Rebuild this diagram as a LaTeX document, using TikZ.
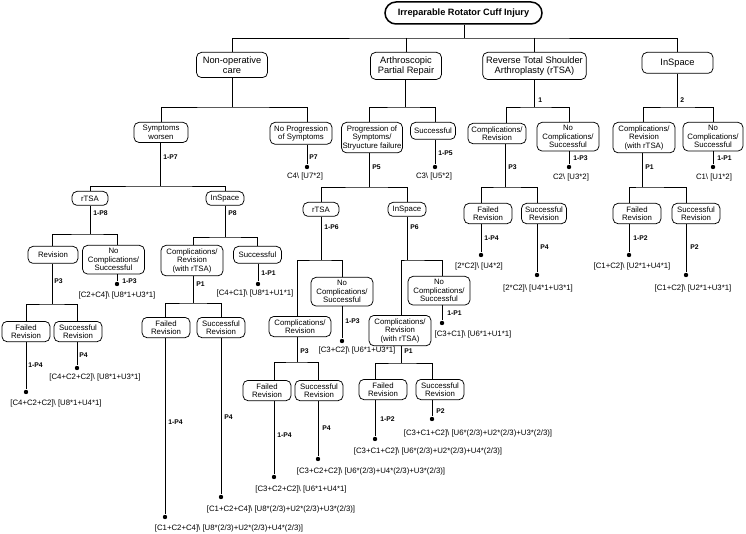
\documentclass[tikz,border=0pt]{standalone}
\usepackage{fontspec}
\setmainfont{Liberation Sans}

\begin{document}
\begin{tikzpicture}[x=1pt, y=1pt, line width=0.75pt,
  box/.style={draw, rounded corners=5pt, align=center, anchor=north, font=\fontsize{7.8}{8.6}\selectfont, inner xsep=3.5pt, inner ysep=3pt, minimum width=48pt, minimum height=17pt},
  tallbox/.style={box, minimum width=62pt},
  tinybox/.style={box, inner ysep=2pt, minimum width=36pt, minimum height=14pt},
  topbox/.style={box, font=\fontsize{9.3}{10.4}\selectfont, inner ysep=4pt, minimum width=71pt, minimum height=21pt},
  rootbox/.style={draw, line width=1.5pt, rounded corners=11pt, font=\bfseries\fontsize{9.2}{11}\selectfont, minimum width=157pt, minimum height=22pt},
  lbl/.style={anchor=west, inner sep=0pt, font=\bfseries\fontsize{6.8}{8}\selectfont},
  res/.style={inner sep=0pt, font=\fontsize{7.8}{9}\selectfont},
  dot/.style={circle, fill, inner sep=0pt, minimum size=4.4pt}]

\useasboundingbox (0,0) rectangle (746,-534);

% Root
\node[rootbox] (root) at (463.5,-13) {Irreparable Rotator Cuff Injury};

% First level
\node[topbox] (nonop) at (232,-52) {Non-operative\\care};
\node[topbox] (arth) at (406,-52) {Arthroscopic\\Partial Repair};
\node[topbox] (rtsa) at (534.5,-52) {Reverse Total Shoulder\\Arthroplasty (rTSA)};
\node[topbox] (insp) at (677.5,-52) {InSpace};

\coordinate (j0) at (464,-38);
\draw (j0 |- root.south) -- (j0);
\draw (nonop.north) |- (j0) -| (insp.north);
\draw (arth.north |- j0) -- (arth.north);
\draw (rtsa.north |- j0) -- (rtsa.north);

% Non-operative care
\node[box, minimum width=54pt] (sw) at (161,-122) {Symptoms\\worsen};
\node[tallbox] (noprog) at (301,-122) {No Progression\\of Symptoms};
\coordinate (jA) at (232,-107);
\draw (jA |- nonop.south) -- (jA);
\draw (sw.north) |- (jA) -| ([xshift=6pt]noprog.north);

\node[dot] (o-noprog) at (307,-167) {};
\node[res] (r-noprog) at (305,-176) {C4\textbackslash\ [U7*2]};
\node[lbl] (l-noprog) at (309,-157) {P7};
\draw (o-noprog |- noprog.south) -- (o-noprog);

\node[tinybox] (rtsa1) at (90,-191) {rTSA};
\node[tinybox, minimum width=38pt] (insp1) at (225,-191) {InSpace};
\coordinate (jE) at (160,-186);
\draw (jE |- sw.south) -- (jE);
\draw (rtsa1.north) |- (jE) -| (insp1.north);
\node[lbl] (l-sw) at (163,-157) {1-P7};

% rTSA after symptoms worsen
\node[box, minimum width=50pt] (rev) at (53,-246) {Revision};
\node[tallbox] (nc1) at (113.5,-245) {No\\Complications/\\Successful};
\coordinate (jI) at (90,-234);
\draw (jI |- rtsa1.south) -- (jI);
\draw ([xshift=-1pt]rev.north) |- (jI) -| ([xshift=3.5pt]nc1.north);
\node[lbl] (l-rtsa1) at (93,-213) {1-P8};

\node[dot] (o-nc1) at (117,-284) {};
\node[res] (r-nc1) at (117,-295) {[C2+C4]\textbackslash\ [U8*1+U3*1]};
\node[lbl] (l-nc1) at (122,-281) {1-P3};
\draw (o-nc1 |- nc1.south) -- (o-nc1);

\node[box] (fail1) at (26,-321) {Failed\\Revision};
\node[box] (succs1) at (78,-321) {Successful\\Revision};
\coordinate (jM) at (52,-304);
\draw (jM |- rev.south) -- (jM);
\draw (fail1.north) |- (jM) -| ([xshift=-1pt]succs1.north);
\node[lbl] (l-rev) at (54,-281) {P3};

\node[dot] (o-fail1) at (26,-392) {};
\node[res] (r-fail1) at (56,-403) {[C4+C2+C2]\textbackslash\ [U8*1+U4*1]};
\node[lbl] (l-fail1) at (28,-365) {1-P4};
\draw (o-fail1 |- fail1.south) -- (o-fail1);

\node[dot] (o-succs1) at (77,-368) {};
\node[res] (r-succs1) at (95,-377) {[C4+C2+C2]\textbackslash\ [U8*1+U3*1]};
\node[lbl] (l-succs1) at (79,-355) {P4};
\draw (o-succs1 |- succs1.south) -- (o-succs1);

% InSpace after symptoms worsen
\node[tallbox] (comp1) at (192,-245) {Complications/\\Revision\\(with rTSA)};
\node[box] (succ1) at (257.5,-246) {Successful};
\coordinate (jJ) at (225,-237);
\draw (jJ |- insp1.south) -- (jJ);
\draw ([xshift=1pt]comp1.north) |- (jJ) -| (succ1.north);
\node[lbl] (l-insp1) at (228,-213) {P8};

\node[dot] (o-succ1) at (258,-284) {};
\node[res] (r-succ1) at (255,-293) {[C4+C1]\textbackslash\ [U8*1+U1*1]};
\node[lbl] (l-succ1) at (261,-273) {1-P1};
\draw (o-succ1 |- succ1.south) -- (o-succ1);

\node[box] (fail2) at (166,-317) {Failed\\Revision};
\node[box] (succs2) at (221,-317) {Successful\\Revision};
\coordinate (jN) at (193,-303);
\draw (jN |- comp1.south) -- (jN);
\draw ([xshift=-1pt]fail2.north) |- (jN) -| (succs2.north);
\node[lbl] (l-comp1) at (196,-284) {P1};

\node[dot] (o-fail2) at (165,-517) {};
\node[res] (r-fail2) at (229,-528) {[C1+C2+C4]\textbackslash\ [U8*(2/3)+U2*(2/3)+U4*(2/3)]};
\node[lbl] (l-fail2) at (168,-422) {1-P4};
\draw (o-fail2 |- fail2.south) -- (o-fail2);

\node[dot] (o-succs2) at (221,-497) {};
\node[res] (r-succs2) at (281,-509) {[C1+C2+C4]\textbackslash\ [U8*(2/3)+U2*(2/3)+U3*(2/3)]};
\node[lbl] (l-succs2) at (224,-417) {P4};
\draw (o-succs2 |- succs2.south) -- (o-succs2);

% Arthroscopic partial repair
\node[box, inner xsep=1pt, minimum width=60pt] (prog) at (372,-122) {Progression of\\Symptoms/\\Stryucture failure};
\node[box, minimum width=45pt] (succ2) at (433,-122) {Successful};
\coordinate (jB) at (405,-107);
\draw (jB |- arth.south) -- (jB);
\draw ([xshift=-3pt]prog.north) |- (jB) -| ([xshift=2pt]succ2.north);

\node[dot] (o-succ2) at (435,-167) {};
\node[res] (r-succ2) at (434,-176) {C3\textbackslash\ [U5*2]};
\node[lbl] (l-succ2) at (438,-153) {1-P5};
\draw (o-succ2 |- succ2.south) -- (o-succ2);

\node[tinybox] (rtsa2) at (321,-202) {rTSA};
\node[tinybox, minimum width=38pt] (insp2) at (407,-202) {InSpace};
\coordinate (jF) at (369,-187);
\draw (jF |- prog.south) -- (jF);
\draw (rtsa2.north) |- (jF) -| (insp2.north);
\node[lbl] (l-prog) at (372,-167) {P5};

% rTSA after progression
\node[tallbox] (comp2) at (300,-316) {Complications/\\Revision};
\node[tallbox] (nc2) at (342,-277) {No\\Complications/\\Successful};
\coordinate (jK) at (321,-260);
\draw (jK |- rtsa2.south) -- (jK);
\draw ([xshift=-3pt]comp2.north) |- (jK) -| (nc2.north);
\node[lbl] (l-rtsa2) at (324,-227) {1-P6};

\node[dot] (o-nc2) at (342,-341) {};
\node[res] (r-nc2) at (357,-350) {[C3+C2]\textbackslash\ [U6*1+U3*1]};
\node[lbl] (l-nc2) at (345,-321) {1-P3};
\draw (o-nc2 |- nc2.south) -- (o-nc2);

\node[box] (fail3) at (267,-380) {Failed\\Revision};
\node[box] (succs3) at (319,-380) {Successful\\Revision};
\coordinate (jO) at (297,-362);
\draw (jO |- comp2.south) -- (jO);
\draw ([xshift=7pt]fail3.north) |- (jO) -| ([xshift=-1pt]succs3.north);
\node[lbl] (l-comp2) at (300,-351) {P3};

\node[dot] (o-fail3) at (274,-477) {};
\node[res] (r-fail3) at (301,-489) {[C3+C2+C2]\textbackslash\ [U6*1+U4*1]};
\node[lbl] (l-fail3) at (277,-435) {1-P4};
\draw (o-fail3 |- fail3.south) -- (o-fail3);

\node[dot] (o-succs3) at (318,-459) {};
\node[res] (r-succs3) at (371,-471) {[C3+C2+C2]\textbackslash\ [U6*(2/3)+U4*(2/3)+U3*(2/3)]};
\node[lbl] (l-succs3) at (322,-428) {P4};
\draw (o-succs3 |- succs3.south) -- (o-succs3);

% InSpace after progression
\node[tallbox] (comp3) at (400,-315) {Complications/\\Revision\\(with rTSA)};
\node[tallbox] (nc3) at (439,-276) {No\\Complications/\\Successful};
\coordinate (jL) at (407,-260);
\draw (jL |- insp2.south) -- (jL);
\draw ([xshift=1pt]comp3.north) |- (jL) -| ([xshift=3pt]nc3.north);
\node[lbl] (l-insp2) at (410,-227) {P6};

\node[dot] (o-nc3) at (442,-323) {};
\node[res] (r-nc3) at (473,-334) {[C3+C1]\textbackslash\ [U6*1+U1*1]};
\node[lbl] (l-nc3) at (447,-313) {1-P1};
\draw (o-nc3 |- nc3.south) -- (o-nc3);

\node[box] (fail4) at (383,-379) {Failed\\Revision};
\node[box] (succs4) at (440,-379) {Successful\\Revision};
\coordinate (jP) at (401,-363);
\draw (jP |- comp3.south) -- (jP);
\draw ([xshift=-8pt]fail4.north) |- (jP) -| ([xshift=-8pt]succs4.north);
\node[lbl] (l-comp3) at (404,-351) {P1};

\node[dot] (o-fail4) at (375,-439) {};
\node[res] (r-fail4) at (428,-451) {[C3+C1+C2]\textbackslash\ [U6*(2/3)+U2*(2/3)+U4*(2/3)]};
\node[lbl] (l-fail4) at (380,-419) {1-P2};
\draw (o-fail4 |- fail4.south) -- (o-fail4);

\node[dot] (o-succs4) at (432,-419) {};
\node[res] (r-succs4) at (478,-433) {[C3+C1+C2]\textbackslash\ [U6*(2/3)+U2*(2/3)+U3*(2/3)]};
\node[lbl] (l-succs4) at (436,-411) {P2};
\draw (o-succs4 |- succs4.south) -- (o-succs4);

% Reverse total shoulder arthroplasty
\node[box, minimum width=55pt] (comp4) at (497,-123) {Complications/\\Revision};
\node[tallbox] (nc4) at (568,-122) {No\\Complications/\\Successful};
\coordinate (jC) at (534,-107);
\draw (jC |- rtsa.south) -- (jC);
\draw ([xshift=9pt]comp4.north) |- (jC) -| ([xshift=1pt]nc4.north);
\node[lbl] (l-rtsa) at (538,-100) {1};

\node[dot] (o-nc4) at (569,-167) {};
\node[res] (r-nc4) at (571,-177) {C2\textbackslash\ [U3*2]};
\node[lbl] (l-nc4) at (573,-158) {1-P3};
\draw (o-nc4 |- nc4.south) -- (o-nc4);

\node[box] (fail5) at (488,-203) {Failed\\Revision};
\node[box, minimum width=45pt] (succs5) at (544,-203) {Successful\\Revision};
\coordinate (jG) at (505,-187);
\draw (jG |- comp4.south) -- (jG);
\draw ([xshift=-7pt]fail5.north) |- (jG) -| ([xshift=-7pt]succs5.north);
\node[lbl] (l-comp4) at (508,-167) {P3};

\node[dot] (o-fail5) at (481,-255) {};
\node[res] (r-fail5) at (479,-266) {[2*C2]\textbackslash\ [U4*2]};
\node[lbl] (l-fail5) at (484,-238) {1-P4};
\draw (o-fail5 |- fail5.south) -- (o-fail5);

\node[dot] (o-succs5) at (537,-275) {};
\node[res] (r-succs5) at (538,-288) {[2*C2]\textbackslash\ [U4*1+U3*1]};
\node[lbl] (l-succs5) at (540,-247) {P4};
\draw (o-succs5 |- succs5.south) -- (o-succs5);

% InSpace
\node[tallbox] (comp5) at (644,-122) {Complications/\\Revision\\(with rTSA)};
\node[tallbox, minimum width=60pt] (nc5) at (713,-122) {No\\Complications/\\Successful};
\coordinate (jD) at (677,-107);
\draw (jD |- insp.south) -- (jD);
\draw ([xshift=-1pt]comp5.north) |- (jD) -| (nc5.north);
\node[lbl] (l-insp) at (680,-100) {2};

\node[dot] (o-nc5) at (713,-167) {};
\node[res] (r-nc5) at (714,-177) {C1\textbackslash\ [U1*2]};
\node[lbl] (l-nc5) at (717,-158) {1-P1};
\draw (o-nc5 |- nc5.south) -- (o-nc5);

\node[box] (fail6) at (637,-203) {Failed\\Revision};
\node[box] (succs6) at (696,-203) {Successful\\Revision};
\coordinate (jH) at (642,-187);
\draw (jH |- comp5.south) -- (jH);
\draw ([xshift=-8pt]fail6.north) |- (jH) -| ([xshift=-10pt]succs6.north);
\node[lbl] (l-comp5) at (645,-167) {P1};

\node[dot] (o-fail6) at (629,-255) {};
\node[res] (r-fail6) at (632,-266) {[C1+C2]\textbackslash\ [U2*1+U4*1]};
\node[lbl] (l-fail6) at (633,-238) {1-P2};
\draw (o-fail6 |- fail6.south) -- (o-fail6);

\node[dot] (o-succs6) at (686,-275) {};
\node[res] (r-succs6) at (693,-288) {[C1+C2]\textbackslash\ [U2*1+U3*1]};
\node[lbl] (l-succs6) at (690,-247) {P2};
\draw (o-succs6 |- succs6.south) -- (o-succs6);

\end{tikzpicture}
\end{document}
